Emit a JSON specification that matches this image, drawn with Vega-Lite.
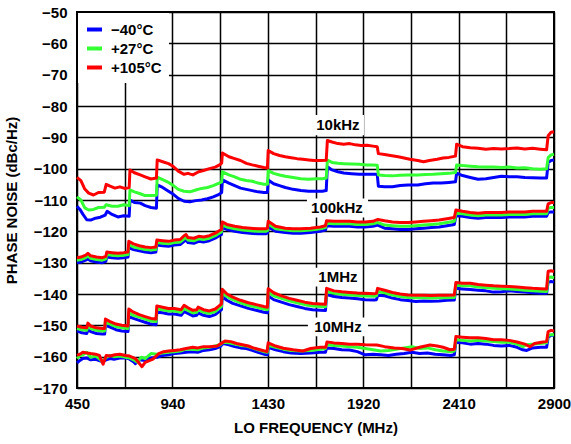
{
"$schema": "https://vega.github.io/schema/vega-lite/v6.json",
"width": 477, "height": 376,
"autosize": {"type": "none"},
"padding": {"left": 77, "top": 12, "right": 17, "bottom": 56},
"background": "white",
"config": {
  "font": "Liberation Sans",
  "view": {"stroke": "black", "strokeWidth": 2},
  "axis": {"domain": false, "ticks": false, "grid": true, "gridColor": "black", "gridWidth": 1.5, "gridOpacity": 1,
    "labelOverlap": false, "labelFlush": false,
    "labelFont": "Liberation Sans", "labelFontSize": 15, "labelFontWeight": "bold", "labelColor": "black",
    "titleFont": "Liberation Sans", "titleFontSize": 15, "titleFontWeight": "bold", "titleColor": "black", "zindex": 0}
},
"encoding": {
  "x": {"field": "f", "type": "quantitative", "title": "LO FREQUENCY (MHz)",
    "scale": {"domain": [450, 2900], "nice": false, "zero": false},
    "axis": {"values": [450, 695, 940, 1185, 1430, 1675, 1920, 2165, 2410, 2655, 2900], "format": "d",
      "labelExpr": "(datum.value - 450) % 490 == 0 ? datum.label : ''", "labelPadding": 8, "titlePadding": 9,
      "labelOverlap": false, "labelFlush": false}},
  "y": {"field": "v", "type": "quantitative", "title": "PHASE NOISE (dBc/Hz)",
    "scale": {"domain": [-170, -50], "nice": false, "zero": false},
    "axis": {"values": [-170, -160, -150, -140, -130, -120, -110, -100, -90, -80, -70, -60, -50], "format": "d",
      "labelPadding": 10, "titlePadding": 14, "labelOverlap": false, "labelFlush": false}}
},
"layer": [
{
  "data": {"values": [
    {"f": 1657, "f2": 1924, "v": -82.9, "v2": -89.3},
    {"f": 1631, "f2": 1945, "v": -109.5, "v2": -115.6},
    {"f": 1667, "f2": 1914, "v": -131.6, "v2": -137.6},
    {"f": 1636, "f2": 1945, "v": -147.5, "v2": -153.5}
  ]},
  "mark": {"type": "rect", "fill": "white"},
  "encoding": {
    "x2": {"field": "f2"},
    "y2": {"field": "v2"}
  }
},
{
  "data": {"values": [
{"s":1,"t":-40,"f":450,"v":-112.0},{"s":1,"t":-40,"f":465,"v":-113.0},{"s":1,"t":-40,"f":480,"v":-114.5},{"s":1,"t":-40,"f":500,"v":-116.3},{"s":1,"t":-40,"f":520,"v":-116.4},{"s":1,"t":-40,"f":545,"v":-115.8},{"s":1,"t":-40,"f":570,"v":-115.5},{"s":1,"t":-40,"f":595,"v":-114.8},{"s":1,"t":-40,"f":605,"v":-113.6},{"s":1,"t":-40,"f":630,"v":-114.6},{"s":1,"t":-40,"f":660,"v":-115.4},{"s":1,"t":-40,"f":690,"v":-115.0},{"s":1,"t":-40,"f":718,"v":-115.2},{"s":1,"t":-40,"f":722,"v":-110.0},{"s":1,"t":-40,"f":745,"v":-110.8},{"s":1,"t":-40,"f":775,"v":-111.0},{"s":1,"t":-40,"f":800,"v":-111.8},{"s":1,"t":-40,"f":830,"v":-112.4},{"s":1,"t":-40,"f":858,"v":-112.6},{"s":1,"t":-40,"f":862,"v":-105.2},{"s":1,"t":-40,"f":890,"v":-106.0},{"s":1,"t":-40,"f":920,"v":-107.2},{"s":1,"t":-40,"f":945,"v":-108.2},{"s":1,"t":-40,"f":970,"v":-109.5},{"s":1,"t":-40,"f":1000,"v":-110.4},{"s":1,"t":-40,"f":1030,"v":-110.6},{"s":1,"t":-40,"f":1060,"v":-110.2},{"s":1,"t":-40,"f":1090,"v":-110.0},{"s":1,"t":-40,"f":1120,"v":-109.6},{"s":1,"t":-40,"f":1150,"v":-109.0},{"s":1,"t":-40,"f":1180,"v":-108.2},{"s":1,"t":-40,"f":1193,"v":-107.6},{"s":1,"t":-40,"f":1197,"v":-103.6},{"s":1,"t":-40,"f":1230,"v":-104.6},{"s":1,"t":-40,"f":1260,"v":-105.4},{"s":1,"t":-40,"f":1290,"v":-106.2},{"s":1,"t":-40,"f":1320,"v":-106.6},{"s":1,"t":-40,"f":1350,"v":-107.0},{"s":1,"t":-40,"f":1380,"v":-107.4},{"s":1,"t":-40,"f":1410,"v":-107.6},{"s":1,"t":-40,"f":1428,"v":-107.6},{"s":1,"t":-40,"f":1432,"v":-103.6},{"s":1,"t":-40,"f":1460,"v":-104.8},{"s":1,"t":-40,"f":1490,"v":-105.4},{"s":1,"t":-40,"f":1520,"v":-106.0},{"s":1,"t":-40,"f":1560,"v":-106.6},{"s":1,"t":-40,"f":1600,"v":-107.0},{"s":1,"t":-40,"f":1640,"v":-107.2},{"s":1,"t":-40,"f":1680,"v":-107.2},{"s":1,"t":-40,"f":1710,"v":-107.2},{"s":1,"t":-40,"f":1730,"v":-107.0},{"s":1,"t":-40,"f":1736,"v":-99.4},{"s":1,"t":-40,"f":1760,"v":-100.4},{"s":1,"t":-40,"f":1790,"v":-101.0},{"s":1,"t":-40,"f":1820,"v":-101.4},{"s":1,"t":-40,"f":1860,"v":-101.6},{"s":1,"t":-40,"f":1900,"v":-101.8},{"s":1,"t":-40,"f":1940,"v":-101.8},{"s":1,"t":-40,"f":1970,"v":-101.8},{"s":1,"t":-40,"f":1992,"v":-101.8},{"s":1,"t":-40,"f":1998,"v":-105.6},{"s":1,"t":-40,"f":2030,"v":-105.8},{"s":1,"t":-40,"f":2070,"v":-105.8},{"s":1,"t":-40,"f":2110,"v":-105.4},{"s":1,"t":-40,"f":2150,"v":-105.2},{"s":1,"t":-40,"f":2200,"v":-105.2},{"s":1,"t":-40,"f":2240,"v":-104.8},{"s":1,"t":-40,"f":2280,"v":-104.6},{"s":1,"t":-40,"f":2320,"v":-104.6},{"s":1,"t":-40,"f":2360,"v":-104.4},{"s":1,"t":-40,"f":2394,"v":-104.2},{"s":1,"t":-40,"f":2400,"v":-101.4},{"s":1,"t":-40,"f":2430,"v":-102.2},{"s":1,"t":-40,"f":2470,"v":-102.8},{"s":1,"t":-40,"f":2510,"v":-103.4},{"s":1,"t":-40,"f":2550,"v":-103.2},{"s":1,"t":-40,"f":2590,"v":-102.8},{"s":1,"t":-40,"f":2630,"v":-102.4},{"s":1,"t":-40,"f":2670,"v":-102.6},{"s":1,"t":-40,"f":2710,"v":-102.6},{"s":1,"t":-40,"f":2750,"v":-102.8},{"s":1,"t":-40,"f":2790,"v":-102.9},{"s":1,"t":-40,"f":2830,"v":-103.0},{"s":1,"t":-40,"f":2862,"v":-103.0},{"s":1,"t":-40,"f":2870,"v":-98.0},{"s":1,"t":-40,"f":2885,"v":-97.4},{"s":1,"t":-40,"f":2900,"v":-97.2},
{"s":2,"t":-40,"f":450,"v":-130.0},{"s":2,"t":-40,"f":470,"v":-129.8},{"s":2,"t":-40,"f":495,"v":-129.2},{"s":2,"t":-40,"f":506,"v":-128.8},{"s":2,"t":-40,"f":520,"v":-129.4},{"s":2,"t":-40,"f":550,"v":-129.8},{"s":2,"t":-40,"f":580,"v":-130.0},{"s":2,"t":-40,"f":598,"v":-129.6},{"s":2,"t":-40,"f":603,"v":-128.2},{"s":2,"t":-40,"f":630,"v":-128.4},{"s":2,"t":-40,"f":660,"v":-128.6},{"s":2,"t":-40,"f":690,"v":-128.4},{"s":2,"t":-40,"f":712,"v":-128.2},{"s":2,"t":-40,"f":716,"v":-125.2},{"s":2,"t":-40,"f":740,"v":-125.8},{"s":2,"t":-40,"f":770,"v":-126.2},{"s":2,"t":-40,"f":800,"v":-126.6},{"s":2,"t":-40,"f":830,"v":-126.8},{"s":2,"t":-40,"f":855,"v":-126.6},{"s":2,"t":-40,"f":860,"v":-124.4},{"s":2,"t":-40,"f":890,"v":-124.6},{"s":2,"t":-40,"f":920,"v":-124.8},{"s":2,"t":-40,"f":950,"v":-124.4},{"s":2,"t":-40,"f":980,"v":-124.2},{"s":2,"t":-40,"f":1000,"v":-123.2},{"s":2,"t":-40,"f":1010,"v":-122.8},{"s":2,"t":-40,"f":1020,"v":-123.6},{"s":2,"t":-40,"f":1050,"v":-123.8},{"s":2,"t":-40,"f":1075,"v":-123.2},{"s":2,"t":-40,"f":1100,"v":-123.4},{"s":2,"t":-40,"f":1130,"v":-123.0},{"s":2,"t":-40,"f":1160,"v":-122.2},{"s":2,"t":-40,"f":1180,"v":-121.4},{"s":2,"t":-40,"f":1192,"v":-121.0},{"s":2,"t":-40,"f":1196,"v":-118.8},{"s":2,"t":-40,"f":1220,"v":-119.4},{"s":2,"t":-40,"f":1260,"v":-120.0},{"s":2,"t":-40,"f":1300,"v":-120.4},{"s":2,"t":-40,"f":1340,"v":-120.6},{"s":2,"t":-40,"f":1380,"v":-120.8},{"s":2,"t":-40,"f":1420,"v":-120.8},{"s":2,"t":-40,"f":1428,"v":-120.6},{"s":2,"t":-40,"f":1432,"v":-118.6},{"s":2,"t":-40,"f":1470,"v":-120.0},{"s":2,"t":-40,"f":1520,"v":-120.4},{"s":2,"t":-40,"f":1560,"v":-120.6},{"s":2,"t":-40,"f":1600,"v":-120.6},{"s":2,"t":-40,"f":1650,"v":-120.4},{"s":2,"t":-40,"f":1700,"v":-120.0},{"s":2,"t":-40,"f":1726,"v":-119.6},{"s":2,"t":-40,"f":1732,"v":-118.2},{"s":2,"t":-40,"f":1770,"v":-118.4},{"s":2,"t":-40,"f":1810,"v":-118.4},{"s":2,"t":-40,"f":1850,"v":-118.4},{"s":2,"t":-40,"f":1890,"v":-118.6},{"s":2,"t":-40,"f":1930,"v":-118.6},{"s":2,"t":-40,"f":1970,"v":-118.4},{"s":2,"t":-40,"f":1995,"v":-118.0},{"s":2,"t":-40,"f":2030,"v":-119.0},{"s":2,"t":-40,"f":2070,"v":-119.2},{"s":2,"t":-40,"f":2110,"v":-119.4},{"s":2,"t":-40,"f":2150,"v":-119.4},{"s":2,"t":-40,"f":2190,"v":-119.2},{"s":2,"t":-40,"f":2230,"v":-119.0},{"s":2,"t":-40,"f":2270,"v":-118.8},{"s":2,"t":-40,"f":2310,"v":-118.6},{"s":2,"t":-40,"f":2350,"v":-118.2},{"s":2,"t":-40,"f":2388,"v":-117.8},{"s":2,"t":-40,"f":2396,"v":-115.0},{"s":2,"t":-40,"f":2430,"v":-115.2},{"s":2,"t":-40,"f":2470,"v":-115.6},{"s":2,"t":-40,"f":2510,"v":-115.8},{"s":2,"t":-40,"f":2550,"v":-115.6},{"s":2,"t":-40,"f":2590,"v":-115.6},{"s":2,"t":-40,"f":2630,"v":-115.6},{"s":2,"t":-40,"f":2670,"v":-115.4},{"s":2,"t":-40,"f":2710,"v":-115.4},{"s":2,"t":-40,"f":2750,"v":-115.4},{"s":2,"t":-40,"f":2790,"v":-115.2},{"s":2,"t":-40,"f":2830,"v":-115.2},{"s":2,"t":-40,"f":2862,"v":-115.2},{"s":2,"t":-40,"f":2870,"v":-114.0},{"s":2,"t":-40,"f":2885,"v":-113.8},{"s":2,"t":-40,"f":2900,"v":-113.8},
{"s":3,"t":-40,"f":450,"v":-151.8},{"s":3,"t":-40,"f":475,"v":-152.4},{"s":3,"t":-40,"f":500,"v":-152.6},{"s":3,"t":-40,"f":506,"v":-151.4},{"s":3,"t":-40,"f":520,"v":-152.0},{"s":3,"t":-40,"f":550,"v":-152.6},{"s":3,"t":-40,"f":580,"v":-152.8},{"s":3,"t":-40,"f":592,"v":-152.8},{"s":3,"t":-40,"f":596,"v":-150.0},{"s":3,"t":-40,"f":620,"v":-150.6},{"s":3,"t":-40,"f":650,"v":-151.4},{"s":3,"t":-40,"f":680,"v":-151.8},{"s":3,"t":-40,"f":712,"v":-152.0},{"s":3,"t":-40,"f":716,"v":-147.2},{"s":3,"t":-40,"f":740,"v":-147.8},{"s":3,"t":-40,"f":770,"v":-148.4},{"s":3,"t":-40,"f":800,"v":-149.0},{"s":3,"t":-40,"f":830,"v":-149.6},{"s":3,"t":-40,"f":856,"v":-149.8},{"s":3,"t":-40,"f":860,"v":-145.8},{"s":3,"t":-40,"f":890,"v":-146.0},{"s":3,"t":-40,"f":920,"v":-146.4},{"s":3,"t":-40,"f":950,"v":-146.4},{"s":3,"t":-40,"f":985,"v":-146.8},{"s":3,"t":-40,"f":1000,"v":-145.6},{"s":3,"t":-40,"f":1020,"v":-146.2},{"s":3,"t":-40,"f":1045,"v":-147.0},{"s":3,"t":-40,"f":1065,"v":-146.8},{"s":3,"t":-40,"f":1072,"v":-146.0},{"s":3,"t":-40,"f":1100,"v":-146.8},{"s":3,"t":-40,"f":1130,"v":-147.2},{"s":3,"t":-40,"f":1160,"v":-146.6},{"s":3,"t":-40,"f":1180,"v":-145.6},{"s":3,"t":-40,"f":1192,"v":-145.0},{"s":3,"t":-40,"f":1196,"v":-140.8},{"s":3,"t":-40,"f":1220,"v":-142.0},{"s":3,"t":-40,"f":1250,"v":-143.0},{"s":3,"t":-40,"f":1290,"v":-143.8},{"s":3,"t":-40,"f":1330,"v":-144.6},{"s":3,"t":-40,"f":1370,"v":-145.2},{"s":3,"t":-40,"f":1410,"v":-145.8},{"s":3,"t":-40,"f":1428,"v":-146.0},{"s":3,"t":-40,"f":1432,"v":-140.6},{"s":3,"t":-40,"f":1460,"v":-141.8},{"s":3,"t":-40,"f":1500,"v":-142.6},{"s":3,"t":-40,"f":1540,"v":-143.4},{"s":3,"t":-40,"f":1580,"v":-144.0},{"s":3,"t":-40,"f":1620,"v":-144.6},{"s":3,"t":-40,"f":1660,"v":-145.0},{"s":3,"t":-40,"f":1700,"v":-145.2},{"s":3,"t":-40,"f":1726,"v":-145.3},{"s":3,"t":-40,"f":1732,"v":-140.2},{"s":3,"t":-40,"f":1770,"v":-140.8},{"s":3,"t":-40,"f":1810,"v":-141.1},{"s":3,"t":-40,"f":1850,"v":-141.3},{"s":3,"t":-40,"f":1890,"v":-141.5},{"s":3,"t":-40,"f":1930,"v":-141.8},{"s":3,"t":-40,"f":1975,"v":-141.9},{"s":3,"t":-40,"f":1988,"v":-141.8},{"s":3,"t":-40,"f":1994,"v":-140.4},{"s":3,"t":-40,"f":2030,"v":-140.6},{"s":3,"t":-40,"f":2070,"v":-141.3},{"s":3,"t":-40,"f":2110,"v":-141.8},{"s":3,"t":-40,"f":2150,"v":-142.1},{"s":3,"t":-40,"f":2190,"v":-142.4},{"s":3,"t":-40,"f":2230,"v":-142.2},{"s":3,"t":-40,"f":2270,"v":-142.3},{"s":3,"t":-40,"f":2310,"v":-142.2},{"s":3,"t":-40,"f":2350,"v":-142.0},{"s":3,"t":-40,"f":2388,"v":-141.9},{"s":3,"t":-40,"f":2396,"v":-138.2},{"s":3,"t":-40,"f":2430,"v":-138.4},{"s":3,"t":-40,"f":2470,"v":-138.6},{"s":3,"t":-40,"f":2510,"v":-138.8},{"s":3,"t":-40,"f":2550,"v":-139.0},{"s":3,"t":-40,"f":2590,"v":-139.4},{"s":3,"t":-40,"f":2630,"v":-139.3},{"s":3,"t":-40,"f":2670,"v":-139.0},{"s":3,"t":-40,"f":2710,"v":-139.2},{"s":3,"t":-40,"f":2750,"v":-139.4},{"s":3,"t":-40,"f":2790,"v":-139.6},{"s":3,"t":-40,"f":2830,"v":-139.8},{"s":3,"t":-40,"f":2862,"v":-139.8},{"s":3,"t":-40,"f":2870,"v":-136.2},{"s":3,"t":-40,"f":2885,"v":-136.0},{"s":3,"t":-40,"f":2900,"v":-136.2},
{"s":4,"t":-40,"f":450,"v":-162.0},{"s":4,"t":-40,"f":465,"v":-161.2},{"s":4,"t":-40,"f":480,"v":-160.6},{"s":4,"t":-40,"f":500,"v":-160.4},{"s":4,"t":-40,"f":520,"v":-161.0},{"s":4,"t":-40,"f":545,"v":-160.8},{"s":4,"t":-40,"f":560,"v":-161.2},{"s":4,"t":-40,"f":580,"v":-161.6},{"s":4,"t":-40,"f":600,"v":-161.0},{"s":4,"t":-40,"f":620,"v":-160.6},{"s":4,"t":-40,"f":640,"v":-160.8},{"s":4,"t":-40,"f":670,"v":-160.4},{"s":4,"t":-40,"f":700,"v":-160.4},{"s":4,"t":-40,"f":720,"v":-160.8},{"s":4,"t":-40,"f":740,"v":-161.6},{"s":4,"t":-40,"f":750,"v":-162.2},{"s":4,"t":-40,"f":770,"v":-161.0},{"s":4,"t":-40,"f":800,"v":-161.2},{"s":4,"t":-40,"f":830,"v":-160.4},{"s":4,"t":-40,"f":860,"v":-160.2},{"s":4,"t":-40,"f":890,"v":-159.6},{"s":4,"t":-40,"f":920,"v":-159.4},{"s":4,"t":-40,"f":950,"v":-159.0},{"s":4,"t":-40,"f":980,"v":-158.8},{"s":4,"t":-40,"f":1010,"v":-158.6},{"s":4,"t":-40,"f":1040,"v":-158.4},{"s":4,"t":-40,"f":1070,"v":-158.6},{"s":4,"t":-40,"f":1100,"v":-158.0},{"s":4,"t":-40,"f":1130,"v":-157.8},{"s":4,"t":-40,"f":1160,"v":-157.4},{"s":4,"t":-40,"f":1185,"v":-156.8},{"s":4,"t":-40,"f":1200,"v":-155.8},{"s":4,"t":-40,"f":1230,"v":-156.2},{"s":4,"t":-40,"f":1260,"v":-156.8},{"s":4,"t":-40,"f":1290,"v":-157.2},{"s":4,"t":-40,"f":1320,"v":-157.4},{"s":4,"t":-40,"f":1350,"v":-158.0},{"s":4,"t":-40,"f":1380,"v":-158.6},{"s":4,"t":-40,"f":1410,"v":-159.2},{"s":4,"t":-40,"f":1428,"v":-159.4},{"s":4,"t":-40,"f":1432,"v":-157.0},{"s":4,"t":-40,"f":1470,"v":-157.8},{"s":4,"t":-40,"f":1510,"v":-158.4},{"s":4,"t":-40,"f":1550,"v":-158.8},{"s":4,"t":-40,"f":1600,"v":-159.0},{"s":4,"t":-40,"f":1650,"v":-158.8},{"s":4,"t":-40,"f":1700,"v":-158.6},{"s":4,"t":-40,"f":1726,"v":-158.6},{"s":4,"t":-40,"f":1732,"v":-157.2},{"s":4,"t":-40,"f":1770,"v":-157.4},{"s":4,"t":-40,"f":1810,"v":-157.8},{"s":4,"t":-40,"f":1850,"v":-157.9},{"s":4,"t":-40,"f":1890,"v":-158.4},{"s":4,"t":-40,"f":1930,"v":-159.4},{"s":4,"t":-40,"f":1970,"v":-159.2},{"s":4,"t":-40,"f":2010,"v":-159.4},{"s":4,"t":-40,"f":2050,"v":-159.6},{"s":4,"t":-40,"f":2090,"v":-159.2},{"s":4,"t":-40,"f":2130,"v":-159.0},{"s":4,"t":-40,"f":2170,"v":-158.6},{"s":4,"t":-40,"f":2210,"v":-159.0},{"s":4,"t":-40,"f":2250,"v":-158.8},{"s":4,"t":-40,"f":2290,"v":-159.2},{"s":4,"t":-40,"f":2330,"v":-159.4},{"s":4,"t":-40,"f":2370,"v":-159.6},{"s":4,"t":-40,"f":2388,"v":-159.4},{"s":4,"t":-40,"f":2396,"v":-155.4},{"s":4,"t":-40,"f":2430,"v":-155.6},{"s":4,"t":-40,"f":2470,"v":-156.0},{"s":4,"t":-40,"f":2510,"v":-155.8},{"s":4,"t":-40,"f":2550,"v":-156.0},{"s":4,"t":-40,"f":2590,"v":-156.4},{"s":4,"t":-40,"f":2630,"v":-156.6},{"s":4,"t":-40,"f":2670,"v":-156.4},{"s":4,"t":-40,"f":2710,"v":-157.0},{"s":4,"t":-40,"f":2740,"v":-157.8},{"s":4,"t":-40,"f":2760,"v":-158.0},{"s":4,"t":-40,"f":2790,"v":-157.2},{"s":4,"t":-40,"f":2830,"v":-157.0},{"s":4,"t":-40,"f":2862,"v":-157.0},{"s":4,"t":-40,"f":2870,"v":-153.8},{"s":4,"t":-40,"f":2885,"v":-153.2},{"s":4,"t":-40,"f":2900,"v":-153.2},
{"s":1,"t":27,"f":450,"v":-109.0},{"s":1,"t":27,"f":470,"v":-110.0},{"s":1,"t":27,"f":490,"v":-112.5},{"s":1,"t":27,"f":510,"v":-113.2},{"s":1,"t":27,"f":535,"v":-113.0},{"s":1,"t":27,"f":560,"v":-112.4},{"s":1,"t":27,"f":590,"v":-112.3},{"s":1,"t":27,"f":600,"v":-111.5},{"s":1,"t":27,"f":630,"v":-112.0},{"s":1,"t":27,"f":660,"v":-112.0},{"s":1,"t":27,"f":690,"v":-111.5},{"s":1,"t":27,"f":718,"v":-111.8},{"s":1,"t":27,"f":722,"v":-106.8},{"s":1,"t":27,"f":745,"v":-107.4},{"s":1,"t":27,"f":775,"v":-108.0},{"s":1,"t":27,"f":800,"v":-108.6},{"s":1,"t":27,"f":830,"v":-108.6},{"s":1,"t":27,"f":858,"v":-108.5},{"s":1,"t":27,"f":862,"v":-102.7},{"s":1,"t":27,"f":890,"v":-103.5},{"s":1,"t":27,"f":920,"v":-104.4},{"s":1,"t":27,"f":945,"v":-105.4},{"s":1,"t":27,"f":970,"v":-106.6},{"s":1,"t":27,"f":1000,"v":-107.2},{"s":1,"t":27,"f":1030,"v":-107.4},{"s":1,"t":27,"f":1060,"v":-106.8},{"s":1,"t":27,"f":1090,"v":-106.3},{"s":1,"t":27,"f":1120,"v":-106.0},{"s":1,"t":27,"f":1150,"v":-105.4},{"s":1,"t":27,"f":1180,"v":-104.6},{"s":1,"t":27,"f":1193,"v":-104.2},{"s":1,"t":27,"f":1197,"v":-101.0},{"s":1,"t":27,"f":1230,"v":-102.0},{"s":1,"t":27,"f":1260,"v":-102.6},{"s":1,"t":27,"f":1290,"v":-103.4},{"s":1,"t":27,"f":1320,"v":-103.8},{"s":1,"t":27,"f":1350,"v":-104.0},{"s":1,"t":27,"f":1380,"v":-104.6},{"s":1,"t":27,"f":1410,"v":-105.0},{"s":1,"t":27,"f":1428,"v":-105.0},{"s":1,"t":27,"f":1432,"v":-100.6},{"s":1,"t":27,"f":1460,"v":-101.5},{"s":1,"t":27,"f":1490,"v":-102.0},{"s":1,"t":27,"f":1520,"v":-102.4},{"s":1,"t":27,"f":1560,"v":-102.8},{"s":1,"t":27,"f":1600,"v":-103.2},{"s":1,"t":27,"f":1640,"v":-103.4},{"s":1,"t":27,"f":1680,"v":-103.2},{"s":1,"t":27,"f":1710,"v":-103.2},{"s":1,"t":27,"f":1730,"v":-103.0},{"s":1,"t":27,"f":1736,"v":-97.3},{"s":1,"t":27,"f":1760,"v":-98.0},{"s":1,"t":27,"f":1790,"v":-98.3},{"s":1,"t":27,"f":1820,"v":-98.4},{"s":1,"t":27,"f":1860,"v":-98.5},{"s":1,"t":27,"f":1900,"v":-98.6},{"s":1,"t":27,"f":1940,"v":-98.8},{"s":1,"t":27,"f":1970,"v":-98.8},{"s":1,"t":27,"f":1992,"v":-98.9},{"s":1,"t":27,"f":1998,"v":-102.0},{"s":1,"t":27,"f":2030,"v":-102.2},{"s":1,"t":27,"f":2070,"v":-102.3},{"s":1,"t":27,"f":2110,"v":-102.1},{"s":1,"t":27,"f":2150,"v":-102.0},{"s":1,"t":27,"f":2200,"v":-102.0},{"s":1,"t":27,"f":2240,"v":-101.9},{"s":1,"t":27,"f":2280,"v":-101.8},{"s":1,"t":27,"f":2320,"v":-101.6},{"s":1,"t":27,"f":2360,"v":-101.5},{"s":1,"t":27,"f":2394,"v":-101.2},{"s":1,"t":27,"f":2400,"v":-98.8},{"s":1,"t":27,"f":2430,"v":-99.0},{"s":1,"t":27,"f":2470,"v":-99.2},{"s":1,"t":27,"f":2510,"v":-99.4},{"s":1,"t":27,"f":2550,"v":-99.5},{"s":1,"t":27,"f":2590,"v":-99.5},{"s":1,"t":27,"f":2630,"v":-99.6},{"s":1,"t":27,"f":2670,"v":-99.5},{"s":1,"t":27,"f":2710,"v":-99.8},{"s":1,"t":27,"f":2750,"v":-99.7},{"s":1,"t":27,"f":2790,"v":-100.0},{"s":1,"t":27,"f":2830,"v":-100.2},{"s":1,"t":27,"f":2862,"v":-100.0},{"s":1,"t":27,"f":2870,"v":-96.5},{"s":1,"t":27,"f":2885,"v":-95.6},{"s":1,"t":27,"f":2900,"v":-95.4},
{"s":2,"t":27,"f":450,"v":-129.2},{"s":2,"t":27,"f":470,"v":-129.0},{"s":2,"t":27,"f":495,"v":-128.4},{"s":2,"t":27,"f":506,"v":-127.8},{"s":2,"t":27,"f":520,"v":-128.6},{"s":2,"t":27,"f":550,"v":-129.0},{"s":2,"t":27,"f":580,"v":-129.2},{"s":2,"t":27,"f":598,"v":-128.8},{"s":2,"t":27,"f":603,"v":-127.4},{"s":2,"t":27,"f":630,"v":-127.6},{"s":2,"t":27,"f":660,"v":-127.8},{"s":2,"t":27,"f":690,"v":-127.6},{"s":2,"t":27,"f":712,"v":-127.4},{"s":2,"t":27,"f":716,"v":-124.2},{"s":2,"t":27,"f":740,"v":-125.0},{"s":2,"t":27,"f":770,"v":-125.4},{"s":2,"t":27,"f":800,"v":-125.8},{"s":2,"t":27,"f":830,"v":-126.0},{"s":2,"t":27,"f":855,"v":-125.8},{"s":2,"t":27,"f":860,"v":-123.6},{"s":2,"t":27,"f":890,"v":-123.8},{"s":2,"t":27,"f":920,"v":-124.0},{"s":2,"t":27,"f":950,"v":-123.6},{"s":2,"t":27,"f":980,"v":-123.4},{"s":2,"t":27,"f":1000,"v":-122.4},{"s":2,"t":27,"f":1010,"v":-122.0},{"s":2,"t":27,"f":1020,"v":-122.8},{"s":2,"t":27,"f":1050,"v":-123.0},{"s":2,"t":27,"f":1075,"v":-122.4},{"s":2,"t":27,"f":1100,"v":-122.6},{"s":2,"t":27,"f":1130,"v":-122.2},{"s":2,"t":27,"f":1160,"v":-121.4},{"s":2,"t":27,"f":1180,"v":-120.6},{"s":2,"t":27,"f":1192,"v":-120.2},{"s":2,"t":27,"f":1196,"v":-118.0},{"s":2,"t":27,"f":1220,"v":-118.6},{"s":2,"t":27,"f":1260,"v":-119.2},{"s":2,"t":27,"f":1300,"v":-119.6},{"s":2,"t":27,"f":1340,"v":-119.8},{"s":2,"t":27,"f":1380,"v":-120.0},{"s":2,"t":27,"f":1420,"v":-120.0},{"s":2,"t":27,"f":1428,"v":-119.8},{"s":2,"t":27,"f":1432,"v":-117.6},{"s":2,"t":27,"f":1470,"v":-119.2},{"s":2,"t":27,"f":1520,"v":-119.6},{"s":2,"t":27,"f":1560,"v":-119.8},{"s":2,"t":27,"f":1600,"v":-119.8},{"s":2,"t":27,"f":1650,"v":-119.6},{"s":2,"t":27,"f":1700,"v":-119.2},{"s":2,"t":27,"f":1726,"v":-118.8},{"s":2,"t":27,"f":1732,"v":-117.4},{"s":2,"t":27,"f":1770,"v":-117.6},{"s":2,"t":27,"f":1810,"v":-117.6},{"s":2,"t":27,"f":1850,"v":-117.6},{"s":2,"t":27,"f":1890,"v":-117.8},{"s":2,"t":27,"f":1930,"v":-117.8},{"s":2,"t":27,"f":1970,"v":-117.6},{"s":2,"t":27,"f":1995,"v":-117.2},{"s":2,"t":27,"f":2030,"v":-118.0},{"s":2,"t":27,"f":2070,"v":-118.2},{"s":2,"t":27,"f":2110,"v":-118.4},{"s":2,"t":27,"f":2150,"v":-118.4},{"s":2,"t":27,"f":2190,"v":-118.2},{"s":2,"t":27,"f":2230,"v":-118.0},{"s":2,"t":27,"f":2270,"v":-117.8},{"s":2,"t":27,"f":2310,"v":-117.6},{"s":2,"t":27,"f":2350,"v":-117.2},{"s":2,"t":27,"f":2388,"v":-116.8},{"s":2,"t":27,"f":2396,"v":-114.2},{"s":2,"t":27,"f":2430,"v":-114.4},{"s":2,"t":27,"f":2470,"v":-114.8},{"s":2,"t":27,"f":2510,"v":-115.0},{"s":2,"t":27,"f":2550,"v":-114.8},{"s":2,"t":27,"f":2590,"v":-114.8},{"s":2,"t":27,"f":2630,"v":-114.8},{"s":2,"t":27,"f":2670,"v":-114.6},{"s":2,"t":27,"f":2710,"v":-114.6},{"s":2,"t":27,"f":2750,"v":-114.6},{"s":2,"t":27,"f":2790,"v":-114.4},{"s":2,"t":27,"f":2830,"v":-114.4},{"s":2,"t":27,"f":2862,"v":-114.4},{"s":2,"t":27,"f":2870,"v":-112.6},{"s":2,"t":27,"f":2885,"v":-112.4},{"s":2,"t":27,"f":2900,"v":-112.4},
{"s":3,"t":27,"f":450,"v":-151.0},{"s":3,"t":27,"f":475,"v":-151.4},{"s":3,"t":27,"f":500,"v":-151.6},{"s":3,"t":27,"f":506,"v":-150.2},{"s":3,"t":27,"f":520,"v":-151.0},{"s":3,"t":27,"f":550,"v":-151.6},{"s":3,"t":27,"f":580,"v":-151.8},{"s":3,"t":27,"f":592,"v":-151.8},{"s":3,"t":27,"f":596,"v":-149.0},{"s":3,"t":27,"f":620,"v":-149.6},{"s":3,"t":27,"f":650,"v":-150.4},{"s":3,"t":27,"f":680,"v":-150.8},{"s":3,"t":27,"f":712,"v":-151.0},{"s":3,"t":27,"f":716,"v":-146.0},{"s":3,"t":27,"f":740,"v":-146.8},{"s":3,"t":27,"f":770,"v":-147.4},{"s":3,"t":27,"f":800,"v":-148.0},{"s":3,"t":27,"f":830,"v":-148.6},{"s":3,"t":27,"f":856,"v":-148.8},{"s":3,"t":27,"f":860,"v":-144.8},{"s":3,"t":27,"f":890,"v":-145.0},{"s":3,"t":27,"f":920,"v":-145.4},{"s":3,"t":27,"f":950,"v":-145.4},{"s":3,"t":27,"f":985,"v":-145.8},{"s":3,"t":27,"f":1000,"v":-144.6},{"s":3,"t":27,"f":1020,"v":-145.2},{"s":3,"t":27,"f":1045,"v":-146.0},{"s":3,"t":27,"f":1065,"v":-145.8},{"s":3,"t":27,"f":1072,"v":-145.0},{"s":3,"t":27,"f":1100,"v":-145.8},{"s":3,"t":27,"f":1130,"v":-146.2},{"s":3,"t":27,"f":1160,"v":-145.6},{"s":3,"t":27,"f":1180,"v":-144.6},{"s":3,"t":27,"f":1192,"v":-144.0},{"s":3,"t":27,"f":1196,"v":-139.6},{"s":3,"t":27,"f":1220,"v":-140.8},{"s":3,"t":27,"f":1250,"v":-141.8},{"s":3,"t":27,"f":1290,"v":-142.8},{"s":3,"t":27,"f":1330,"v":-143.6},{"s":3,"t":27,"f":1370,"v":-144.2},{"s":3,"t":27,"f":1410,"v":-144.8},{"s":3,"t":27,"f":1428,"v":-145.0},{"s":3,"t":27,"f":1432,"v":-139.4},{"s":3,"t":27,"f":1460,"v":-140.6},{"s":3,"t":27,"f":1500,"v":-141.4},{"s":3,"t":27,"f":1540,"v":-142.2},{"s":3,"t":27,"f":1580,"v":-142.8},{"s":3,"t":27,"f":1620,"v":-143.4},{"s":3,"t":27,"f":1660,"v":-143.8},{"s":3,"t":27,"f":1700,"v":-144.0},{"s":3,"t":27,"f":1726,"v":-144.1},{"s":3,"t":27,"f":1732,"v":-139.2},{"s":3,"t":27,"f":1770,"v":-139.8},{"s":3,"t":27,"f":1810,"v":-140.1},{"s":3,"t":27,"f":1850,"v":-140.3},{"s":3,"t":27,"f":1890,"v":-140.5},{"s":3,"t":27,"f":1930,"v":-140.6},{"s":3,"t":27,"f":1975,"v":-140.7},{"s":3,"t":27,"f":1988,"v":-140.6},{"s":3,"t":27,"f":1994,"v":-139.2},{"s":3,"t":27,"f":2030,"v":-139.6},{"s":3,"t":27,"f":2070,"v":-140.3},{"s":3,"t":27,"f":2110,"v":-140.8},{"s":3,"t":27,"f":2150,"v":-141.1},{"s":3,"t":27,"f":2190,"v":-141.2},{"s":3,"t":27,"f":2230,"v":-141.2},{"s":3,"t":27,"f":2270,"v":-141.3},{"s":3,"t":27,"f":2310,"v":-141.2},{"s":3,"t":27,"f":2350,"v":-141.2},{"s":3,"t":27,"f":2388,"v":-141.1},{"s":3,"t":27,"f":2396,"v":-137.2},{"s":3,"t":27,"f":2430,"v":-137.4},{"s":3,"t":27,"f":2470,"v":-137.4},{"s":3,"t":27,"f":2510,"v":-137.8},{"s":3,"t":27,"f":2550,"v":-138.0},{"s":3,"t":27,"f":2590,"v":-138.2},{"s":3,"t":27,"f":2630,"v":-138.3},{"s":3,"t":27,"f":2670,"v":-138.4},{"s":3,"t":27,"f":2710,"v":-138.6},{"s":3,"t":27,"f":2750,"v":-138.8},{"s":3,"t":27,"f":2790,"v":-139.0},{"s":3,"t":27,"f":2830,"v":-139.1},{"s":3,"t":27,"f":2862,"v":-139.2},{"s":3,"t":27,"f":2870,"v":-134.8},{"s":3,"t":27,"f":2885,"v":-134.6},{"s":3,"t":27,"f":2900,"v":-134.8},
{"s":4,"t":27,"f":450,"v":-160.6},{"s":4,"t":27,"f":465,"v":-159.6},{"s":4,"t":27,"f":480,"v":-159.4},{"s":4,"t":27,"f":500,"v":-158.6},{"s":4,"t":27,"f":520,"v":-160.2},{"s":4,"t":27,"f":545,"v":-159.8},{"s":4,"t":27,"f":560,"v":-160.4},{"s":4,"t":27,"f":580,"v":-161.6},{"s":4,"t":27,"f":600,"v":-160.2},{"s":4,"t":27,"f":620,"v":-159.6},{"s":4,"t":27,"f":640,"v":-160.0},{"s":4,"t":27,"f":670,"v":-159.8},{"s":4,"t":27,"f":700,"v":-160.2},{"s":4,"t":27,"f":720,"v":-160.4},{"s":4,"t":27,"f":740,"v":-161.0},{"s":4,"t":27,"f":760,"v":-161.8},{"s":4,"t":27,"f":780,"v":-160.2},{"s":4,"t":27,"f":800,"v":-160.6},{"s":4,"t":27,"f":830,"v":-159.0},{"s":4,"t":27,"f":860,"v":-159.2},{"s":4,"t":27,"f":890,"v":-158.8},{"s":4,"t":27,"f":920,"v":-158.6},{"s":4,"t":27,"f":950,"v":-158.4},{"s":4,"t":27,"f":980,"v":-158.2},{"s":4,"t":27,"f":1010,"v":-157.6},{"s":4,"t":27,"f":1040,"v":-157.6},{"s":4,"t":27,"f":1070,"v":-157.8},{"s":4,"t":27,"f":1100,"v":-157.2},{"s":4,"t":27,"f":1130,"v":-157.0},{"s":4,"t":27,"f":1160,"v":-156.6},{"s":4,"t":27,"f":1185,"v":-156.2},{"s":4,"t":27,"f":1200,"v":-155.4},{"s":4,"t":27,"f":1230,"v":-155.6},{"s":4,"t":27,"f":1260,"v":-156.0},{"s":4,"t":27,"f":1290,"v":-156.4},{"s":4,"t":27,"f":1320,"v":-156.6},{"s":4,"t":27,"f":1350,"v":-157.2},{"s":4,"t":27,"f":1380,"v":-157.8},{"s":4,"t":27,"f":1410,"v":-158.4},{"s":4,"t":27,"f":1428,"v":-158.6},{"s":4,"t":27,"f":1432,"v":-156.4},{"s":4,"t":27,"f":1470,"v":-157.0},{"s":4,"t":27,"f":1510,"v":-157.6},{"s":4,"t":27,"f":1550,"v":-158.0},{"s":4,"t":27,"f":1600,"v":-158.2},{"s":4,"t":27,"f":1650,"v":-158.0},{"s":4,"t":27,"f":1700,"v":-157.6},{"s":4,"t":27,"f":1726,"v":-157.4},{"s":4,"t":27,"f":1732,"v":-156.2},{"s":4,"t":27,"f":1770,"v":-156.4},{"s":4,"t":27,"f":1810,"v":-156.6},{"s":4,"t":27,"f":1850,"v":-156.8},{"s":4,"t":27,"f":1890,"v":-157.0},{"s":4,"t":27,"f":1930,"v":-157.4},{"s":4,"t":27,"f":1970,"v":-157.8},{"s":4,"t":27,"f":2010,"v":-158.2},{"s":4,"t":27,"f":2050,"v":-158.0},{"s":4,"t":27,"f":2090,"v":-157.6},{"s":4,"t":27,"f":2130,"v":-157.2},{"s":4,"t":27,"f":2170,"v":-156.8},{"s":4,"t":27,"f":2210,"v":-157.4},{"s":4,"t":27,"f":2250,"v":-157.2},{"s":4,"t":27,"f":2290,"v":-157.8},{"s":4,"t":27,"f":2330,"v":-158.2},{"s":4,"t":27,"f":2370,"v":-158.4},{"s":4,"t":27,"f":2388,"v":-158.2},{"s":4,"t":27,"f":2396,"v":-154.6},{"s":4,"t":27,"f":2430,"v":-154.8},{"s":4,"t":27,"f":2470,"v":-155.0},{"s":4,"t":27,"f":2510,"v":-154.8},{"s":4,"t":27,"f":2550,"v":-155.0},{"s":4,"t":27,"f":2590,"v":-155.2},{"s":4,"t":27,"f":2630,"v":-155.4},{"s":4,"t":27,"f":2670,"v":-155.4},{"s":4,"t":27,"f":2710,"v":-156.0},{"s":4,"t":27,"f":2740,"v":-156.8},{"s":4,"t":27,"f":2760,"v":-156.2},{"s":4,"t":27,"f":2790,"v":-156.0},{"s":4,"t":27,"f":2830,"v":-155.8},{"s":4,"t":27,"f":2862,"v":-155.6},{"s":4,"t":27,"f":2870,"v":-153.2},{"s":4,"t":27,"f":2885,"v":-153.0},{"s":4,"t":27,"f":2900,"v":-153.0},
{"s":1,"t":105,"f":450,"v":-102.8},{"s":1,"t":105,"f":470,"v":-103.8},{"s":1,"t":105,"f":490,"v":-106.5},{"s":1,"t":105,"f":510,"v":-107.8},{"s":1,"t":105,"f":535,"v":-108.4},{"s":1,"t":105,"f":560,"v":-107.6},{"s":1,"t":105,"f":590,"v":-107.5},{"s":1,"t":105,"f":600,"v":-105.0},{"s":1,"t":105,"f":620,"v":-105.6},{"s":1,"t":105,"f":645,"v":-106.2},{"s":1,"t":105,"f":670,"v":-105.8},{"s":1,"t":105,"f":695,"v":-106.3},{"s":1,"t":105,"f":718,"v":-106.0},{"s":1,"t":105,"f":722,"v":-100.4},{"s":1,"t":105,"f":745,"v":-101.3},{"s":1,"t":105,"f":775,"v":-102.0},{"s":1,"t":105,"f":800,"v":-102.6},{"s":1,"t":105,"f":830,"v":-103.3},{"s":1,"t":105,"f":858,"v":-103.0},{"s":1,"t":105,"f":862,"v":-97.2},{"s":1,"t":105,"f":890,"v":-97.8},{"s":1,"t":105,"f":920,"v":-98.4},{"s":1,"t":105,"f":945,"v":-99.3},{"s":1,"t":105,"f":970,"v":-100.8},{"s":1,"t":105,"f":1000,"v":-101.8},{"s":1,"t":105,"f":1020,"v":-101.5},{"s":1,"t":105,"f":1045,"v":-102.0},{"s":1,"t":105,"f":1075,"v":-101.0},{"s":1,"t":105,"f":1100,"v":-100.6},{"s":1,"t":105,"f":1130,"v":-100.0},{"s":1,"t":105,"f":1160,"v":-99.5},{"s":1,"t":105,"f":1185,"v":-98.7},{"s":1,"t":105,"f":1193,"v":-98.2},{"s":1,"t":105,"f":1197,"v":-95.0},{"s":1,"t":105,"f":1230,"v":-96.2},{"s":1,"t":105,"f":1260,"v":-96.8},{"s":1,"t":105,"f":1290,"v":-97.4},{"s":1,"t":105,"f":1320,"v":-98.3},{"s":1,"t":105,"f":1350,"v":-98.8},{"s":1,"t":105,"f":1380,"v":-99.2},{"s":1,"t":105,"f":1410,"v":-99.6},{"s":1,"t":105,"f":1428,"v":-99.8},{"s":1,"t":105,"f":1432,"v":-94.2},{"s":1,"t":105,"f":1460,"v":-95.2},{"s":1,"t":105,"f":1490,"v":-95.8},{"s":1,"t":105,"f":1520,"v":-96.2},{"s":1,"t":105,"f":1550,"v":-96.5},{"s":1,"t":105,"f":1580,"v":-96.8},{"s":1,"t":105,"f":1610,"v":-97.0},{"s":1,"t":105,"f":1640,"v":-97.2},{"s":1,"t":105,"f":1670,"v":-97.4},{"s":1,"t":105,"f":1700,"v":-97.4},{"s":1,"t":105,"f":1730,"v":-97.3},{"s":1,"t":105,"f":1736,"v":-91.0},{"s":1,"t":105,"f":1760,"v":-91.5},{"s":1,"t":105,"f":1790,"v":-92.0},{"s":1,"t":105,"f":1820,"v":-92.2},{"s":1,"t":105,"f":1850,"v":-92.0},{"s":1,"t":105,"f":1880,"v":-92.4},{"s":1,"t":105,"f":1910,"v":-92.6},{"s":1,"t":105,"f":1940,"v":-92.5},{"s":1,"t":105,"f":1970,"v":-92.8},{"s":1,"t":105,"f":1992,"v":-93.0},{"s":1,"t":105,"f":1998,"v":-95.2},{"s":1,"t":105,"f":2030,"v":-95.5},{"s":1,"t":105,"f":2060,"v":-95.8},{"s":1,"t":105,"f":2100,"v":-96.2},{"s":1,"t":105,"f":2130,"v":-96.6},{"s":1,"t":105,"f":2160,"v":-97.0},{"s":1,"t":105,"f":2200,"v":-97.4},{"s":1,"t":105,"f":2230,"v":-97.8},{"s":1,"t":105,"f":2260,"v":-97.4},{"s":1,"t":105,"f":2300,"v":-97.0},{"s":1,"t":105,"f":2330,"v":-96.6},{"s":1,"t":105,"f":2360,"v":-96.4},{"s":1,"t":105,"f":2394,"v":-96.0},{"s":1,"t":105,"f":2400,"v":-92.2},{"s":1,"t":105,"f":2430,"v":-93.0},{"s":1,"t":105,"f":2470,"v":-93.3},{"s":1,"t":105,"f":2510,"v":-93.5},{"s":1,"t":105,"f":2550,"v":-93.8},{"s":1,"t":105,"f":2590,"v":-93.6},{"s":1,"t":105,"f":2630,"v":-93.7},{"s":1,"t":105,"f":2670,"v":-93.6},{"s":1,"t":105,"f":2710,"v":-93.4},{"s":1,"t":105,"f":2750,"v":-93.7},{"s":1,"t":105,"f":2790,"v":-93.5},{"s":1,"t":105,"f":2830,"v":-93.8},{"s":1,"t":105,"f":2862,"v":-94.0},{"s":1,"t":105,"f":2870,"v":-89.5},{"s":1,"t":105,"f":2885,"v":-88.4},{"s":1,"t":105,"f":2900,"v":-88.2},
{"s":2,"t":105,"f":450,"v":-128.4},{"s":2,"t":105,"f":470,"v":-128.2},{"s":2,"t":105,"f":495,"v":-127.6},{"s":2,"t":105,"f":506,"v":-127.0},{"s":2,"t":105,"f":520,"v":-127.8},{"s":2,"t":105,"f":550,"v":-128.2},{"s":2,"t":105,"f":580,"v":-128.4},{"s":2,"t":105,"f":598,"v":-128.0},{"s":2,"t":105,"f":603,"v":-126.6},{"s":2,"t":105,"f":630,"v":-126.8},{"s":2,"t":105,"f":660,"v":-127.0},{"s":2,"t":105,"f":690,"v":-126.8},{"s":2,"t":105,"f":712,"v":-126.6},{"s":2,"t":105,"f":716,"v":-123.2},{"s":2,"t":105,"f":740,"v":-124.0},{"s":2,"t":105,"f":770,"v":-124.6},{"s":2,"t":105,"f":800,"v":-125.0},{"s":2,"t":105,"f":830,"v":-125.2},{"s":2,"t":105,"f":855,"v":-125.0},{"s":2,"t":105,"f":860,"v":-122.8},{"s":2,"t":105,"f":890,"v":-123.0},{"s":2,"t":105,"f":920,"v":-123.2},{"s":2,"t":105,"f":950,"v":-122.8},{"s":2,"t":105,"f":980,"v":-122.6},{"s":2,"t":105,"f":1000,"v":-121.4},{"s":2,"t":105,"f":1010,"v":-121.0},{"s":2,"t":105,"f":1020,"v":-122.0},{"s":2,"t":105,"f":1050,"v":-122.2},{"s":2,"t":105,"f":1075,"v":-121.6},{"s":2,"t":105,"f":1100,"v":-121.8},{"s":2,"t":105,"f":1130,"v":-121.4},{"s":2,"t":105,"f":1160,"v":-120.6},{"s":2,"t":105,"f":1180,"v":-119.8},{"s":2,"t":105,"f":1192,"v":-119.4},{"s":2,"t":105,"f":1196,"v":-117.0},{"s":2,"t":105,"f":1220,"v":-117.8},{"s":2,"t":105,"f":1260,"v":-118.4},{"s":2,"t":105,"f":1300,"v":-118.8},{"s":2,"t":105,"f":1340,"v":-119.0},{"s":2,"t":105,"f":1380,"v":-119.2},{"s":2,"t":105,"f":1420,"v":-119.2},{"s":2,"t":105,"f":1428,"v":-119.0},{"s":2,"t":105,"f":1432,"v":-116.8},{"s":2,"t":105,"f":1470,"v":-118.4},{"s":2,"t":105,"f":1520,"v":-119.0},{"s":2,"t":105,"f":1560,"v":-119.2},{"s":2,"t":105,"f":1600,"v":-119.2},{"s":2,"t":105,"f":1650,"v":-119.0},{"s":2,"t":105,"f":1700,"v":-118.6},{"s":2,"t":105,"f":1726,"v":-118.2},{"s":2,"t":105,"f":1732,"v":-116.6},{"s":2,"t":105,"f":1770,"v":-116.8},{"s":2,"t":105,"f":1810,"v":-116.8},{"s":2,"t":105,"f":1850,"v":-116.8},{"s":2,"t":105,"f":1890,"v":-117.0},{"s":2,"t":105,"f":1930,"v":-117.0},{"s":2,"t":105,"f":1970,"v":-116.8},{"s":2,"t":105,"f":1995,"v":-116.2},{"s":2,"t":105,"f":2030,"v":-116.6},{"s":2,"t":105,"f":2070,"v":-117.0},{"s":2,"t":105,"f":2110,"v":-117.2},{"s":2,"t":105,"f":2150,"v":-117.2},{"s":2,"t":105,"f":2190,"v":-117.0},{"s":2,"t":105,"f":2230,"v":-116.8},{"s":2,"t":105,"f":2270,"v":-116.6},{"s":2,"t":105,"f":2310,"v":-116.4},{"s":2,"t":105,"f":2350,"v":-116.0},{"s":2,"t":105,"f":2388,"v":-115.6},{"s":2,"t":105,"f":2396,"v":-113.2},{"s":2,"t":105,"f":2430,"v":-113.6},{"s":2,"t":105,"f":2470,"v":-114.0},{"s":2,"t":105,"f":2510,"v":-114.2},{"s":2,"t":105,"f":2550,"v":-114.0},{"s":2,"t":105,"f":2590,"v":-114.0},{"s":2,"t":105,"f":2630,"v":-114.0},{"s":2,"t":105,"f":2670,"v":-113.8},{"s":2,"t":105,"f":2710,"v":-113.8},{"s":2,"t":105,"f":2750,"v":-113.8},{"s":2,"t":105,"f":2790,"v":-113.6},{"s":2,"t":105,"f":2830,"v":-113.6},{"s":2,"t":105,"f":2862,"v":-113.6},{"s":2,"t":105,"f":2870,"v":-111.2},{"s":2,"t":105,"f":2885,"v":-110.8},{"s":2,"t":105,"f":2900,"v":-110.8},
{"s":3,"t":105,"f":450,"v":-150.2},{"s":3,"t":105,"f":475,"v":-150.6},{"s":3,"t":105,"f":500,"v":-150.8},{"s":3,"t":105,"f":506,"v":-149.3},{"s":3,"t":105,"f":520,"v":-150.2},{"s":3,"t":105,"f":550,"v":-150.8},{"s":3,"t":105,"f":580,"v":-151.0},{"s":3,"t":105,"f":592,"v":-151.0},{"s":3,"t":105,"f":596,"v":-148.0},{"s":3,"t":105,"f":620,"v":-148.8},{"s":3,"t":105,"f":650,"v":-149.6},{"s":3,"t":105,"f":680,"v":-150.0},{"s":3,"t":105,"f":712,"v":-150.2},{"s":3,"t":105,"f":716,"v":-144.8},{"s":3,"t":105,"f":740,"v":-145.8},{"s":3,"t":105,"f":770,"v":-146.6},{"s":3,"t":105,"f":800,"v":-147.2},{"s":3,"t":105,"f":830,"v":-147.8},{"s":3,"t":105,"f":856,"v":-148.0},{"s":3,"t":105,"f":860,"v":-143.8},{"s":3,"t":105,"f":890,"v":-144.2},{"s":3,"t":105,"f":920,"v":-144.6},{"s":3,"t":105,"f":950,"v":-144.6},{"s":3,"t":105,"f":985,"v":-145.0},{"s":3,"t":105,"f":1000,"v":-143.6},{"s":3,"t":105,"f":1020,"v":-144.4},{"s":3,"t":105,"f":1045,"v":-145.2},{"s":3,"t":105,"f":1065,"v":-145.0},{"s":3,"t":105,"f":1072,"v":-144.2},{"s":3,"t":105,"f":1100,"v":-145.0},{"s":3,"t":105,"f":1130,"v":-145.4},{"s":3,"t":105,"f":1160,"v":-144.8},{"s":3,"t":105,"f":1180,"v":-143.8},{"s":3,"t":105,"f":1192,"v":-143.2},{"s":3,"t":105,"f":1196,"v":-138.5},{"s":3,"t":105,"f":1220,"v":-140.0},{"s":3,"t":105,"f":1250,"v":-141.0},{"s":3,"t":105,"f":1290,"v":-142.0},{"s":3,"t":105,"f":1330,"v":-142.8},{"s":3,"t":105,"f":1370,"v":-143.4},{"s":3,"t":105,"f":1410,"v":-144.0},{"s":3,"t":105,"f":1428,"v":-144.2},{"s":3,"t":105,"f":1432,"v":-138.3},{"s":3,"t":105,"f":1460,"v":-139.6},{"s":3,"t":105,"f":1500,"v":-140.6},{"s":3,"t":105,"f":1540,"v":-141.4},{"s":3,"t":105,"f":1580,"v":-142.0},{"s":3,"t":105,"f":1620,"v":-142.6},{"s":3,"t":105,"f":1660,"v":-143.0},{"s":3,"t":105,"f":1700,"v":-143.2},{"s":3,"t":105,"f":1726,"v":-143.3},{"s":3,"t":105,"f":1732,"v":-138.2},{"s":3,"t":105,"f":1770,"v":-139.0},{"s":3,"t":105,"f":1810,"v":-139.3},{"s":3,"t":105,"f":1850,"v":-139.5},{"s":3,"t":105,"f":1890,"v":-139.7},{"s":3,"t":105,"f":1930,"v":-139.8},{"s":3,"t":105,"f":1975,"v":-139.9},{"s":3,"t":105,"f":1988,"v":-139.8},{"s":3,"t":105,"f":1994,"v":-138.2},{"s":3,"t":105,"f":2030,"v":-138.8},{"s":3,"t":105,"f":2070,"v":-139.5},{"s":3,"t":105,"f":2110,"v":-140.0},{"s":3,"t":105,"f":2150,"v":-140.3},{"s":3,"t":105,"f":2190,"v":-140.4},{"s":3,"t":105,"f":2230,"v":-140.4},{"s":3,"t":105,"f":2270,"v":-140.5},{"s":3,"t":105,"f":2310,"v":-140.4},{"s":3,"t":105,"f":2350,"v":-140.4},{"s":3,"t":105,"f":2388,"v":-140.3},{"s":3,"t":105,"f":2396,"v":-136.3},{"s":3,"t":105,"f":2430,"v":-136.6},{"s":3,"t":105,"f":2470,"v":-136.6},{"s":3,"t":105,"f":2510,"v":-137.0},{"s":3,"t":105,"f":2550,"v":-137.2},{"s":3,"t":105,"f":2590,"v":-137.4},{"s":3,"t":105,"f":2630,"v":-137.5},{"s":3,"t":105,"f":2670,"v":-137.6},{"s":3,"t":105,"f":2710,"v":-137.8},{"s":3,"t":105,"f":2750,"v":-138.0},{"s":3,"t":105,"f":2790,"v":-138.2},{"s":3,"t":105,"f":2830,"v":-138.3},{"s":3,"t":105,"f":2862,"v":-138.4},{"s":3,"t":105,"f":2870,"v":-132.7},{"s":3,"t":105,"f":2885,"v":-132.6},{"s":3,"t":105,"f":2900,"v":-132.8},
{"s":4,"t":105,"f":450,"v":-159.6},{"s":4,"t":105,"f":465,"v":-159.2},{"s":4,"t":105,"f":480,"v":-158.6},{"s":4,"t":105,"f":500,"v":-158.8},{"s":4,"t":105,"f":520,"v":-159.0},{"s":4,"t":105,"f":545,"v":-159.2},{"s":4,"t":105,"f":565,"v":-159.6},{"s":4,"t":105,"f":584,"v":-162.4},{"s":4,"t":105,"f":600,"v":-159.6},{"s":4,"t":105,"f":620,"v":-159.8},{"s":4,"t":105,"f":645,"v":-159.4},{"s":4,"t":105,"f":670,"v":-159.2},{"s":4,"t":105,"f":700,"v":-159.6},{"s":4,"t":105,"f":720,"v":-159.8},{"s":4,"t":105,"f":750,"v":-160.6},{"s":4,"t":105,"f":784,"v":-163.2},{"s":4,"t":105,"f":800,"v":-161.8},{"s":4,"t":105,"f":840,"v":-160.8},{"s":4,"t":105,"f":870,"v":-159.0},{"s":4,"t":105,"f":895,"v":-158.4},{"s":4,"t":105,"f":920,"v":-158.2},{"s":4,"t":105,"f":950,"v":-158.0},{"s":4,"t":105,"f":980,"v":-157.8},{"s":4,"t":105,"f":1010,"v":-157.4},{"s":4,"t":105,"f":1045,"v":-157.0},{"s":4,"t":105,"f":1070,"v":-157.2},{"s":4,"t":105,"f":1100,"v":-156.8},{"s":4,"t":105,"f":1130,"v":-156.8},{"s":4,"t":105,"f":1170,"v":-156.6},{"s":4,"t":105,"f":1195,"v":-155.6},{"s":4,"t":105,"f":1210,"v":-155.0},{"s":4,"t":105,"f":1240,"v":-155.2},{"s":4,"t":105,"f":1270,"v":-155.8},{"s":4,"t":105,"f":1300,"v":-156.2},{"s":4,"t":105,"f":1330,"v":-156.6},{"s":4,"t":105,"f":1355,"v":-157.2},{"s":4,"t":105,"f":1390,"v":-157.8},{"s":4,"t":105,"f":1426,"v":-158.4},{"s":4,"t":105,"f":1432,"v":-155.6},{"s":4,"t":105,"f":1470,"v":-156.6},{"s":4,"t":105,"f":1510,"v":-157.3},{"s":4,"t":105,"f":1560,"v":-157.8},{"s":4,"t":105,"f":1610,"v":-158.2},{"s":4,"t":105,"f":1650,"v":-157.4},{"s":4,"t":105,"f":1700,"v":-157.0},{"s":4,"t":105,"f":1728,"v":-157.0},{"s":4,"t":105,"f":1734,"v":-155.3},{"s":4,"t":105,"f":1770,"v":-155.6},{"s":4,"t":105,"f":1810,"v":-155.8},{"s":4,"t":105,"f":1850,"v":-156.0},{"s":4,"t":105,"f":1890,"v":-156.0},{"s":4,"t":105,"f":1930,"v":-156.2},{"s":4,"t":105,"f":1990,"v":-156.3},{"s":4,"t":105,"f":2030,"v":-156.8},{"s":4,"t":105,"f":2080,"v":-157.2},{"s":4,"t":105,"f":2120,"v":-157.4},{"s":4,"t":105,"f":2160,"v":-157.9},{"s":4,"t":105,"f":2210,"v":-157.0},{"s":4,"t":105,"f":2263,"v":-156.3},{"s":4,"t":105,"f":2300,"v":-156.6},{"s":4,"t":105,"f":2330,"v":-157.0},{"s":4,"t":105,"f":2366,"v":-157.8},{"s":4,"t":105,"f":2388,"v":-157.6},{"s":4,"t":105,"f":2396,"v":-153.6},{"s":4,"t":105,"f":2430,"v":-153.8},{"s":4,"t":105,"f":2470,"v":-154.0},{"s":4,"t":105,"f":2510,"v":-154.0},{"s":4,"t":105,"f":2550,"v":-154.2},{"s":4,"t":105,"f":2590,"v":-154.6},{"s":4,"t":105,"f":2630,"v":-154.6},{"s":4,"t":105,"f":2670,"v":-154.8},{"s":4,"t":105,"f":2710,"v":-155.3},{"s":4,"t":105,"f":2750,"v":-156.0},{"s":4,"t":105,"f":2776,"v":-156.8},{"s":4,"t":105,"f":2800,"v":-155.8},{"s":4,"t":105,"f":2843,"v":-155.3},{"s":4,"t":105,"f":2862,"v":-155.2},{"s":4,"t":105,"f":2870,"v":-152.0},{"s":4,"t":105,"f":2885,"v":-151.6},{"s":4,"t":105,"f":2900,"v":-151.8}
  ]},
  "mark": {"type": "line", "strokeWidth": 3, "strokeJoin": "round"},
  "encoding": {
    "color": {"field": "t", "type": "nominal",
      "scale": {"domain": [-40, 27, 105], "range": ["#0000ff", "#33ff33", "#ff0000"]},
      "legend": {"orient": "top-left", "offset": 1, "title": null, "fillColor": "white", "padding": 7,
        "symbolType": "stroke", "symbolStrokeWidth": 4, "symbolSize": 225, "rowPadding": 1,
        "labelFont": "Liberation Sans", "labelFontSize": 15, "labelFontWeight": "bold", "labelColor": "black", "labelOffset": 7,
        "labelExpr": "datum.value < 0 ? '\u2212' + abs(datum.value) + '°C' : '+' + datum.value + '°C'"}},
    "detail": {"field": "s", "type": "nominal"}
  }
},
{
  "data": {"values": [
    {"label": "10kHz", "f": 1790, "v": -86.1},
    {"label": "100kHz", "f": 1785, "v": -112.6},
    {"label": "1MHz", "f": 1790, "v": -134.6},
    {"label": "10MHz", "f": 1790, "v": -150.5}
  ]},
  "mark": {"type": "text", "font": "Liberation Sans", "fontSize": 15, "fontWeight": "bold", "color": "black", "align": "center", "baseline": "middle"},
  "encoding": {
    "text": {"field": "label"}
  }
}
]
}
